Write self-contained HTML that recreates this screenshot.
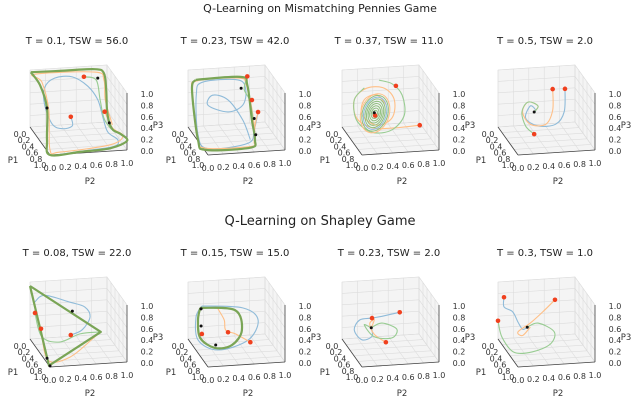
<!DOCTYPE html>
<html><head><meta charset="utf-8">
<style>
html,body{margin:0;padding:0;background:#fff;}
svg{display:block;font-family:"DejaVu Sans","Liberation Sans",sans-serif;}
</style></head>
<body>
<svg id="fig" width="640" height="408" viewBox="0 0 640 408">
<text x="320" y="12" font-size="11" text-anchor="middle" fill="#222">Q-Learning on Mismatching Pennies Game</text>
<text x="320" y="225" font-size="13" text-anchor="middle" fill="#222">Q-Learning on Shapley Game</text>
</svg>
<script>
// ----- data -----
const panelTitles = ["T = 0.1, TSW = 56.0","T = 0.23, TSW = 42.0","T = 0.37, TSW = 11.0","T = 0.5, TSW = 2.0",
                     "T = 0.08, TSW = 22.0","T = 0.15, TSW = 15.0","T = 0.23, TSW = 2.0","T = 0.3, TSW = 1.0"];
const tickValues = [0.0,0.2,0.4,0.6,0.8,1.0];
const tickLabels = ["0.0","0.2","0.4","0.6","0.8","1.0"];
// trajectories: [P1,P2,P3] points
const p1Loop = [[0,.01,.96],[0,.39,.95],[0,.84,.94],[0,.96,.86],[0,.99,.56],[0,1,.21],[.5,.9,.24],[.5,.95,.11],[.7,1,.13],[1,1,.16],[1,.78,.05],[1,.39,.02],[1,0,0],[.85,0,.19],[.85,0,.75],[.5,0,.98],[0,.01,.96]];
const p1Blue = [[.5,.4,.39],[.5,.42,.23],[.5,.29,.19],[.5,.16,.28],[.5,.06,.63],[.5,.06,.93],[0,.32,.83],[0,.55,.83],[0,.75,.65],[0,.88,.4],[.5,.82,.33],[.5,.88,.08],[1,.88,.19],[1,.84,.08],[1,.52,.04],[1,.13,0]];
const p1Orange = [[.5,.84,.44],[.5,.94,.15],[.8,1,.15],[1,.78,.11],[1,.13,.04],[1,0,.09],[.9,.01,.74],[.4,.05,.98],[0,.06,.92],[0,.84,.89],[0,.96,.74],[.3,.9,.54],[.5,.94,.2]];
const p1Green = [[0,.7,.82],[0,.86,.75],[0,.91,.4],[.5,.83,.33],[.5,.91,.15],[.5,.95,.11]];
const p1Red = [[0,.7,.82],[.5,.84,.44],[.5,.4,.39]];
const p1Black = [[0,.88,.78],[.85,0,.75],[.5,.9,.24]];

const p2Loop = [[0,.1,.82],[0,.68,.82],[0,.77,.67],[.5,.7,.31],[1,.61,.21],[1,.55,.08],[.9,0,.04],[.5,0,.02],[.2,0,.75],[0,.1,.82]];
const p2Blue = [[.5,.78,.44],[.5,.73,.13],[1,.52,.16],[1,0,.11],[.5,0,.11],[.3,.03,.71],[0,.19,.77],[0,.65,.77],[0,.75,.58],[0,.71,.32],[0,.52,.22],[0,.26,.36],[0,.32,.53],[0,.52,.43],[.5,.58,.32],[1,.55,.22]];
const p2Orange = [[.5,.78,.44],[.5,.74,.2],[1,.6,.18],[1,.55,.1],[.9,0,.07],[.5,0,.05],[.2,0,.74],[0,.12,.8],[0,.66,.8],[0,.76,.66],[.5,.72,.33],[1,.6,.2]];
const p2Green = [[0,.77,.82],[0,.73,.6],[0,.8,.4],[.5,.72,.3]];
const p2Red = [[0,.77,.82],[0,.83,.4],[.5,.78,.44]];
const p2Black = [[0,.69,.62],[.5,.73,.33],[1,.62,.3]];

const p3Center = [.5,.30,.46];
const p3RingsP2 = [.03,.05,.07,.09,.11,.13,.15,.17,.19];
const p3RingsP3 = [.05,.09,.13,.17,.21,.25,.28,.31,.34];
const p3Orange = [[.5,.88,.2],[.5,.52,.18],[.5,.26,.21],[.5,.06,.4],[.5,.03,.72],[.5,.19,.91],[.5,.42,.89],[.5,.55,.67],[.5,.52,.36],[.5,.32,.25],[.5,.13,.45],[.5,.16,.71],[.5,.32,.78],[.5,.45,.59]];
const p3Green = [[0,.48,.78],[0,.65,.7],[.5,.65,.75],[.5,.68,.4],[.5,.52,.15],[.5,.26,.13],[.5,.06,.36],[.5,.03,.72],[.5,.16,.92]];
const p3Red = [[0,.7,.66],[.5,.88,.2],[.5,.3,.42]];
const p3Black = [[.5,.29,.47]];

const p4Orange = [[.5,.58,.86],[.5,.58,.49],[.5,.49,.25],[.5,.29,.27],[.5,.19,.49],[.5,.26,.66],[.5,.39,.58],[.5,.34,.48]];
const p4Blue = [[.5,.74,.85],[.5,.73,.45],[.5,.62,.24],[.5,.39,.23],[.5,.23,.38],[.5,.29,.59],[.5,.36,.51],[.5,.34,.48]];
const p4Green = [[.5,.34,.09],[.5,.23,.24],[.5,.18,.49],[.5,.26,.66],[.5,.39,.58],[.5,.34,.48]];
const p4Red = [[.5,.58,.86],[.5,.74,.85],[.5,.34,.09]];
const p4Black = [[.5,.34,.48]];

const p5Loop = [[0,0,.93],[.5,.79,.3],[.95,0,0],[0,0,.93]];
const p5Blue = [[.5,.4,.28],[.5,.55,.36],[.5,.65,.58],[0,.71,.5],[0,.52,.6],[0,.19,.75],[0,.06,.64]];
const p5Green = [[.25,0,.58],[.55,.01,.31],[.5,.26,.17],[.5,.52,.29],[.5,.78,.3]];
const p5Orange = [[.55,0,.45],[.9,0,.07],[1,.26,.15],[.5,.71,.22],[.5,.79,.3]];
const p5Red = [[.25,0,.58],[.55,0,.45],[.5,.4,.28]];
const p5Black = [[0,.55,.44],[.85,0,.08],[1,0,.02]];

const p6Loop = [[.5,.03,.79],[.5,.48,.71],[.5,.57,.35],[.5,.44,.1],[.5,.22,.07],[.5,.03,.26],[.5,0,.58],[.5,.03,.79]];
const p6Blue = [[.5,.05,.82],[.5,.58,.74],[.5,.78,.51],[.5,.65,.17],[.5,.26,.03],[.5,0,.23],[.4,0,.58],[.5,.05,.82]];
const p6Orange = [[.5,.68,.13],[.5,.49,.29],[.5,.36,.37],[.5,.34,.55],[.5,.26,.75]];
const p6Red = [[.5,.05,.33],[.5,.39,.33],[.5,.68,.13]];
const p6Black = [[.5,.04,.77],[.5,.04,.47],[.5,.23,.12]];

const p7Blue = [[.5,.62,.66],[.5,.39,.61],[.5,.26,.59],[.5,.1,.57],[.5,.03,.4],[.5,.13,.22],[.5,.26,.27],[.5,.25,.42]];
const p7Orange = [[.5,.44,.15],[.5,.29,.3],[.5,.23,.49],[.5,.29,.56],[.5,.25,.42]];
const p7Green = [[.5,.25,.42],[.5,.39,.49],[.5,.58,.37],[.5,.52,.22],[.5,.29,.26],[.5,.16,.48],[.5,.25,.42]];
const p7Red = [[.5,.62,.66],[.5,.26,.59],[.5,.44,.15]];
const p7Black = [[.5,.25,.42]];

const p8Blue = [[.3,0,.88],[.3,0,.71],[.5,.06,.72],[.5,.13,.53],[.5,.19,.4],[.5,.25,.43]];
const p8Orange = [[.5,.61,.88],[.5,.45,.68],[.5,.29,.5],[.5,.13,.36],[.5,.19,.29],[.5,.29,.43]];
const p8Green = [[0,0,.32],[.2,0,.13],[.8,0,.16],[1,.19,.25],[.5,.55,.11],[.5,.6,.32],[.5,.39,.49],[.5,.25,.43]];
const p8Red = [[.3,0,.88],[0,0,.32],[.5,.61,.88]];
const p8Black = [[.5,.25,.43]];

// ----- rendering -----
const svg = document.getElementById('fig');
const NS = 'http://www.w3.org/2000/svg';
const offX = [0,158,312,468], offY = [0,212];
const BLUE='#8fbbd9', ORANGE='#ffbf86', GREEN='#98cc92', LOOP='#7aa556', RED='#f0401e';

function mk(tag, attrs, parent){ const e=document.createElementNS(NS,tag); for(const k in attrs) e.setAttribute(k,attrs[k]); (parent||svg).appendChild(e); return e; }
function proj(p, ox, oy){ return [ox+30+77*p[1]+20*p[0], oy+127-5*p[1]+28*p[0]-57*p[2]]; }
function smooth(pts){
  let d='M'+pts[0][0].toFixed(1)+','+pts[0][1].toFixed(1);
  for(let i=0;i<pts.length-1;i++){
    const p0=pts[Math.max(0,i-1)],p1=pts[i],p2=pts[i+1],p3=pts[Math.min(pts.length-1,i+2)];
    const c1=[p1[0]+(p2[0]-p0[0])/6,p1[1]+(p2[1]-p0[1])/6], c2=[p2[0]-(p3[0]-p1[0])/6,p2[1]-(p3[1]-p1[1])/6];
    d+=' C'+c1.map(v=>v.toFixed(1))+' '+c2.map(v=>v.toFixed(1))+' '+p2[0].toFixed(1)+','+p2[1].toFixed(1);
  }
  return d;
}
function drawAxes(g, ox, oy){
  const panes=[[[0,0,0],[0,1,0],[0,1,1],[0,0,1]],[[0,1,0],[1,1,0],[1,1,1],[0,1,1]],[[0,0,0],[0,1,0],[1,1,0],[1,0,0]]];
  panes.forEach((pn,i)=>{
    const pl=mk('polygon',{points:pn.map(p=>proj(p,ox,oy).join(',')).join(' '),fill:'#f4f4f4',stroke:'#e6e6e6','stroke-width':0.6},g);
    
    
  });
  const gl=[];
  tickValues.forEach(v=>{
    gl.push([[0,v,0],[0,v,1]],[[0,0,v],[0,1,v]],[[0,1,v],[1,1,v]],[[v,1,0],[v,1,1]],[[0,v,0],[1,v,0]],[[v,0,0],[v,1,0]]);
  });
  gl.forEach(l=>{const a=proj(l[0],ox,oy),b=proj(l[1],ox,oy);
    const ln=mk('line',{x1:a[0],y1:a[1],x2:b[0],y2:b[1],stroke:'#dcdcdc','stroke-width':0.6},g);
    
    });
  const ax=[[[0,0,0],[1,0,0]],[[1,0,0],[1,1,0]],[[1,1,0],[1,1,1]]];
  ax.forEach((l,i)=>{const a=proj(l[0],ox,oy),b=proj(l[1],ox,oy);
    const ln=mk('line',{x1:a[0],y1:a[1],x2:b[0],y2:b[1],stroke:'#444','stroke-width':0.8},g);
    
    });
  tickValues.forEach((v,i)=>{
    let a=proj([v,0,0],ox,oy);
    let t=mk('text',{x:a[0]-10,y:a[1]+10+3*v,'font-size':8,'text-anchor':'middle',fill:'#333'},g); t.textContent=tickLabels[i];
    
    
    a=proj([1,v,0],ox,oy);
    t=mk('text',{x:a[0],y:a[1]+16,'font-size':8,'text-anchor':'middle',fill:'#333'},g); t.textContent=tickLabels[i];
    
    
    a=proj([1,1,v],ox,oy);
    t=mk('text',{x:a[0]+20,y:a[1]+4,'font-size':8,'text-anchor':'middle',fill:'#333'},g); t.textContent=tickLabels[i];
    
    
  });
  [['P1',13,163],['P2',90,184],['P3',158,128]].forEach(l=>{
    const t=mk('text',{x:ox+l[1],y:oy+l[2],'font-size':8.5,'text-anchor':'middle',fill:'#333'},g); t.textContent=l[0];
    
    
  });
}
function curve(g, pts, ox, oy, color, w, name){
  const p=mk('path',{d:smooth(pts.map(q=>proj(q,ox,oy))),fill:'none',stroke:color,'stroke-width':w,'stroke-linejoin':'round'},g);
  
  
}
function dots(g, pts, ox, oy, color, r, name){
  pts.forEach(q=>{const a=proj(q,ox,oy);
    const c=mk('circle',{cx:a[0],cy:a[1],r:r,fill:color},g);
    
    });
}
function ring(g, center, rx, rz, ox, oy, color, w){
  const pts=[];
  for(let k=0;k<=24;k++){const a=k/24*2*Math.PI; pts.push([center[0],center[1]+rx*Math.cos(a)+0.3*rz*Math.sin(a)*0.3,center[2]+rz*Math.sin(a)]);}
  curve(g, pts, ox, oy, color, w, 'spiral-ring');
}

const panels = [
  {loop:p1Loop, blue:p1Blue, orange:p1Orange, green:p1Green, red:p1Red, black:p1Black},
  {loop:p2Loop, blue:p2Blue, orange:p2Orange, green:p2Green, red:p2Red, black:p2Black},
  {rings:true, orange:p3Orange, green:p3Green, red:p3Red, black:p3Black},
  {blue:p4Blue, orange:p4Orange, green:p4Green, red:p4Red, black:p4Black},
  {loop:p5Loop, blue:p5Blue, orange:p5Orange, green:p5Green, red:p5Red, black:p5Black, sharp:true},
  {loop:p6Loop, blue:p6Blue, orange:p6Orange, green:p6Loop, red:p6Red, black:p6Black},
  {blue:p7Blue, orange:p7Orange, green:p7Green, red:p7Red, black:p7Black},
  {blue:p8Blue, orange:p8Orange, green:p8Green, red:p8Red, black:p8Black}
];
panels.forEach((pd,i)=>{
  const ox=offX[i%4], oy=offY[Math.floor(i/4)];
  const g=mk('g',{});
  
  
  const t=mk('text',{x:ox+77,y:oy+44,'font-size':10,'text-anchor':'middle',fill:'#222'},g);
  t.textContent=panelTitles[i];
  
  
  drawAxes(g,ox,oy);
  if(pd.blue) curve(g,pd.blue,ox,oy,BLUE,1.1,'trajectory-blue');
  if(pd.orange) curve(g,pd.orange,ox,oy,ORANGE,1.1,'trajectory-orange');
  if(pd.green) curve(g,pd.green,ox,oy,GREEN,1.1,'trajectory-green');
  if(pd.rings){
    p3RingsP2.forEach((r,k)=>ring(g,p3Center,r,p3RingsP3[k],ox,oy,k===8?ORANGE:(k===6?BLUE:'#8fbf7f'),1));
  }
  if(pd.loop){
    if(pd.sharp){
      const pl=mk('polyline',{points:pd.loop.map(q=>proj(q,ox,oy).join(',')).join(' '),fill:'none',stroke:LOOP,'stroke-width':2.2,'stroke-linejoin':'round'},g);
      
      
    } else curve(g,pd.loop,ox,oy,LOOP,2.2,'limit-cycle');
  }
  dots(g,pd.red,ox,oy,RED,2.3,'start-point');
  dots(g,pd.black,ox,oy,'#111',1.5,'end-point');
});
</script>
</body></html>
